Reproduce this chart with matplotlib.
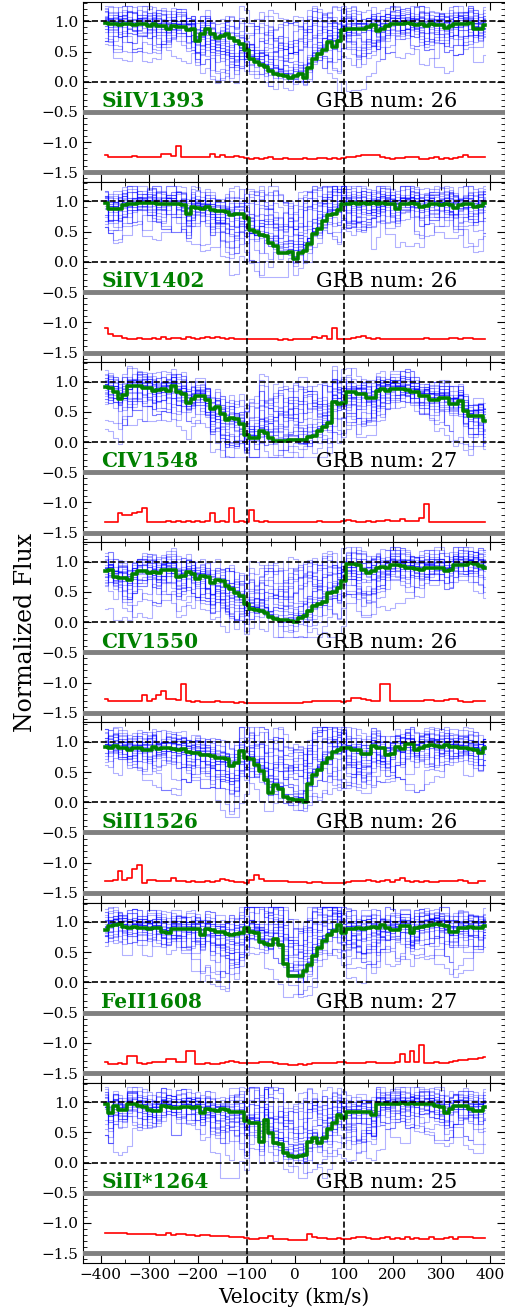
import numpy as np
import matplotlib
matplotlib.use("Agg")
import matplotlib.pyplot as plt
from matplotlib.ticker import MultipleLocator

plt.rcParams['font.family'] = ['DejaVu Serif']

# velocity grid (km/s)
velocity = np.arange(-390, 400, 10)

lines = ['SiIV1393', 'SiIV1402', 'CIV1548', 'CIV1550', 'SiII1526', 'FeII1608', 'SiII*1264']
grb_num = [26, 26, 27, 26, 26, 27, 25]

# median (green) profiles
med_siiv1393 = [0.97, 0.95, 0.95, 0.94, 0.96, 0.95, 0.94, 0.96, 0.95, 0.93,
                0.95, 0.93, 0.92, 0.87, 0.92, 0.90, 0.90, 0.86, 0.88, 0.68,
                0.79, 0.88, 0.79, 0.73, 0.76, 0.79, 0.72, 0.68, 0.62, 0.53,
                0.38, 0.32, 0.28, 0.24, 0.18, 0.13, 0.11, 0.09, 0.07, 0.09,
                0.12, 0.07, 0.23, 0.37, 0.46, 0.52, 0.65, 0.57, 0.68, 0.86,
                0.87, 0.88, 0.87, 0.88, 0.90, 0.94, 0.84, 0.88, 0.92, 0.95,
                0.96, 0.95, 0.97, 0.96, 0.94, 0.95, 0.93, 0.95, 0.94, 0.94,
                0.89, 0.93, 0.95, 0.96, 0.95, 0.97, 0.88, 0.87, 0.94]
med_siiv1402 = [0.97, 0.87, 0.87, 0.88, 0.94, 0.95, 0.96, 0.97, 0.98, 0.97,
                0.98, 0.96, 0.95, 0.95, 0.95, 0.95, 0.94, 0.79, 0.90, 0.89,
                0.88, 0.90, 0.85, 0.84, 0.84, 0.83, 0.78, 0.80, 0.80, 0.72,
                0.53, 0.50, 0.44, 0.42, 0.32, 0.27, 0.15, 0.14, 0.17, 0.04,
                0.15, 0.18, 0.30, 0.46, 0.54, 0.68, 0.78, 0.80, 0.86, 0.95,
                0.96, 0.97, 0.96, 0.97, 0.96, 0.97, 0.96, 0.97, 0.96, 0.96,
                0.87, 0.95, 0.96, 0.97, 0.96, 0.90, 0.92, 0.95, 0.95, 0.94,
                0.95, 0.94, 0.89, 0.94, 0.95, 0.96, 0.91, 0.93, 0.98]
med_civ1548 = [0.91, 0.89, 0.82, 0.71, 0.78, 0.93, 0.93, 0.93, 0.90, 0.89,
               0.84, 0.86, 0.87, 0.85, 0.93, 0.82, 0.80, 0.65, 0.71, 0.76,
               0.76, 0.70, 0.54, 0.58, 0.46, 0.37, 0.40, 0.38, 0.29, 0.11,
               0.06, 0.06, 0.18, 0.15, 0.06, 0.01, 0.01, 0.02, 0.04, 0.04,
               0.03, 0.03, 0.09, 0.10, 0.18, 0.25, 0.32, 0.67, 0.63, 0.65,
               0.83, 0.83, 0.79, 0.79, 0.73, 0.73, 0.84, 0.87, 0.84, 0.87,
               0.87, 0.88, 0.86, 0.82, 0.82, 0.76, 0.76, 0.69, 0.69, 0.73,
               0.73, 0.63, 0.63, 0.68, 0.51, 0.43, 0.43, 0.43, 0.34]
med_civ1550 = [0.84, 0.86, 0.74, 0.73, 0.73, 0.69, 0.79, 0.85, 0.84, 0.82,
               0.83, 0.82, 0.86, 0.87, 0.87, 0.74, 0.76, 0.83, 0.79, 0.71,
               0.76, 0.75, 0.65, 0.69, 0.68, 0.59, 0.55, 0.48, 0.43, 0.30,
               0.21, 0.20, 0.19, 0.15, 0.09, 0.05, 0.04, 0.04, 0.02, 0.00,
               0.07, 0.10, 0.18, 0.26, 0.30, 0.34, 0.48, 0.50, 0.57, 0.68,
               0.96, 0.96, 0.94, 0.87, 0.82, 0.84, 0.90, 0.91, 0.90, 0.94,
               0.94, 0.93, 0.90, 0.90, 0.88, 0.87, 0.90, 0.90, 0.90, 0.89,
               0.84, 0.86, 0.94, 0.95, 0.94, 0.97, 0.96, 0.93, 0.90]
med_siii1526 = [0.91, 0.89, 0.93, 0.90, 0.90, 0.86, 0.89, 0.89, 0.87, 0.87,
                0.91, 0.88, 0.90, 0.90, 0.88, 0.87, 0.88, 0.83, 0.82, 0.81,
                0.79, 0.79, 0.76, 0.74, 0.73, 0.72, 0.60, 0.65, 0.84, 0.73,
                0.72, 0.62, 0.52, 0.36, 0.15, 0.28, 0.22, 0.08, 0.06, 0.03,
                0.03, 0.00, 0.30, 0.45, 0.54, 0.65, 0.73, 0.83, 0.86, 0.89,
                0.89, 0.87, 0.86, 0.80, 0.80, 0.93, 0.90, 0.89, 0.79, 0.80,
                0.92, 0.88, 0.96, 0.96, 0.87, 0.90, 0.93, 0.95, 0.93, 0.92,
                0.94, 0.92, 0.91, 0.89, 0.90, 0.88, 0.86, 0.82, 0.90]
med_feii1608 = [0.86, 0.93, 0.95, 0.97, 0.91, 0.90, 0.91, 0.90, 0.90, 0.89,
                0.90, 0.90, 0.83, 0.82, 0.89, 0.89, 0.88, 0.88, 0.89, 0.88,
                0.78, 0.88, 0.87, 0.84, 0.84, 0.80, 0.79, 0.80, 0.82, 0.90,
                0.84, 0.82, 0.66, 0.63, 0.62, 0.71, 0.62, 0.30, 0.10, 0.10,
                0.10, 0.18, 0.29, 0.43, 0.57, 0.68, 0.79, 0.85, 0.95, 0.82,
                0.88, 0.89, 0.90, 0.89, 0.90, 0.91, 0.90, 0.95, 0.90, 0.87,
                0.86, 0.93, 0.93, 0.82, 0.90, 0.92, 0.93, 0.95, 0.96, 0.95,
                0.94, 0.84, 0.84, 0.90, 0.90, 0.91, 0.90, 0.90, 0.93]
med_siiis1264 = [0.96, 0.82, 0.93, 0.87, 0.87, 0.97, 0.97, 0.93, 0.92, 0.87,
                 0.86, 0.86, 0.93, 0.92, 0.90, 0.90, 0.91, 0.91, 0.90, 0.91,
                 0.82, 0.88, 0.87, 0.86, 0.88, 0.87, 0.84, 0.84, 0.83, 0.68,
                 0.66, 0.65, 0.34, 0.71, 0.48, 0.32, 0.30, 0.15, 0.10, 0.09,
                 0.10, 0.12, 0.34, 0.40, 0.32, 0.40, 0.55, 0.65, 0.79, 0.73,
                 0.83, 0.84, 0.83, 0.84, 0.83, 0.79, 0.96, 0.97, 0.96, 0.97,
                 0.97, 0.98, 0.97, 0.98, 0.97, 0.96, 0.97, 0.96, 0.93, 0.92,
                 0.82, 0.88, 0.93, 0.93, 0.94, 0.88, 0.86, 0.86, 0.92]

# offset (red) curves, drawn below the spectra
red_siiv1393 = [-1.21, -1.24, -1.25, -1.24, -1.24, -1.25, -1.23, -1.25, -1.24, -1.25,
                -1.25, -1.24, -1.20, -1.20, -1.23, -1.07, -1.24, -1.25, -1.25, -1.24,
                -1.25, -1.24, -1.20, -1.24, -1.21, -1.25, -1.25, -1.23, -1.24, -1.26,
                -1.27, -1.26, -1.27, -1.26, -1.25, -1.27, -1.27, -1.26, -1.28, -1.27,
                -1.27, -1.26, -1.27, -1.27, -1.26, -1.26, -1.27, -1.26, -1.27, -1.26,
                -1.25, -1.24, -1.23, -1.22, -1.21, -1.21, -1.22, -1.24, -1.26, -1.27,
                -1.26, -1.26, -1.25, -1.24, -1.25, -1.27, -1.27, -1.26, -1.25, -1.27,
                -1.26, -1.27, -1.26, -1.25, -1.21, -1.24, -1.24, -1.25, -1.25]
red_siiv1402 = [-1.10, -1.20, -1.23, -1.22, -1.26, -1.27, -1.27, -1.26, -1.27, -1.27,
                -1.26, -1.27, -1.25, -1.27, -1.26, -1.26, -1.27, -1.25, -1.26, -1.27,
                -1.26, -1.25, -1.26, -1.25, -1.26, -1.27, -1.26, -1.28, -1.27, -1.28,
                -1.28, -1.27, -1.28, -1.27, -1.28, -1.28, -1.29, -1.28, -1.29, -1.28,
                -1.28, -1.27, -1.27, -1.24, -1.26, -1.22, -1.28, -1.10, -1.28, -1.28,
                -1.27, -1.26, -1.25, -1.23, -1.26, -1.27, -1.26, -1.27, -1.28, -1.27,
                -1.28, -1.27, -1.27, -1.28, -1.28, -1.27, -1.26, -1.27, -1.28, -1.27,
                -1.27, -1.26, -1.26, -1.27, -1.26, -1.26, -1.27, -1.27, -1.27]
red_civ1548 = [-1.33, -1.33, -1.32, -1.18, -1.21, -1.20, -1.18, -1.16, -1.10, -1.33,
               -1.32, -1.33, -1.32, -1.31, -1.32, -1.30, -1.32, -1.31, -1.32, -1.30,
               -1.32, -1.31, -1.18, -1.32, -1.31, -1.32, -1.10, -1.32, -1.31, -1.33,
               -1.13, -1.31, -1.32, -1.30, -1.33, -1.32, -1.33, -1.33, -1.32, -1.33,
               -1.33, -1.32, -1.33, -1.32, -1.31, -1.32, -1.33, -1.32, -1.32, -1.31,
               -1.29, -1.31, -1.32, -1.32, -1.31, -1.32, -1.31, -1.31, -1.29, -1.31,
               -1.30, -1.28, -1.30, -1.30, -1.31, -1.25, -1.02, -1.33, -1.33, -1.32,
               -1.32, -1.33, -1.33, -1.33, -1.33, -1.33, -1.33, -1.33, -1.33]
red_civ1550 = [-1.27, -1.30, -1.31, -1.31, -1.31, -1.30, -1.31, -1.30, -1.20, -1.30,
               -1.28, -1.20, -1.14, -1.27, -1.28, -1.29, -1.02, -1.31, -1.32, -1.31,
               -1.32, -1.32, -1.32, -1.31, -1.32, -1.32, -1.32, -1.33, -1.32, -1.33,
               -1.33, -1.33, -1.33, -1.33, -1.34, -1.34, -1.33, -1.34, -1.33, -1.33,
               -1.33, -1.32, -1.32, -1.31, -1.31, -1.31, -1.30, -1.30, -1.31, -1.32,
               -1.30, -1.25, -1.25, -1.28, -1.29, -1.31, -1.31, -1.02, -1.02, -1.31,
               -1.31, -1.31, -1.30, -1.31, -1.31, -1.30, -1.29, -1.29, -1.30, -1.31,
               -1.29, -1.28, -1.28, -1.30, -1.32, -1.32, -1.31, -1.31, -1.31]
red_siii1526 = [-1.31, -1.31, -1.29, -1.14, -1.28, -1.26, -1.10, -1.03, -1.34, -1.29,
                -1.29, -1.30, -1.31, -1.30, -1.26, -1.30, -1.31, -1.32, -1.31, -1.32,
                -1.32, -1.31, -1.32, -1.30, -1.27, -1.29, -1.31, -1.32, -1.32, -1.33,
                -1.29, -1.20, -1.27, -1.30, -1.30, -1.31, -1.31, -1.31, -1.32, -1.32,
                -1.32, -1.32, -1.33, -1.32, -1.32, -1.33, -1.33, -1.33, -1.33, -1.33,
                -1.32, -1.31, -1.30, -1.31, -1.29, -1.31, -1.32, -1.31, -1.28, -1.32,
                -1.29, -1.26, -1.31, -1.32, -1.31, -1.32, -1.31, -1.32, -1.32, -1.31,
                -1.30, -1.31, -1.30, -1.29, -1.31, -1.33, -1.34, -1.31, -1.30]
red_feii1608 = [-1.31, -1.35, -1.35, -1.34, -1.35, -1.21, -1.21, -1.34, -1.35, -1.34,
                -1.32, -1.32, -1.31, -1.26, -1.26, -1.31, -1.32, -1.14, -1.14, -1.35,
                -1.35, -1.34, -1.35, -1.35, -1.34, -1.32, -1.30, -1.32, -1.34, -1.33,
                -1.34, -1.33, -1.32, -1.31, -1.32, -1.34, -1.35, -1.35, -1.36, -1.36,
                -1.35, -1.36, -1.35, -1.34, -1.34, -1.33, -1.33, -1.33, -1.32, -1.31,
                -1.33, -1.34, -1.34, -1.33, -1.32, -1.32, -1.33, -1.33, -1.34, -1.33,
                -1.31, -1.18, -1.31, -1.13, -1.31, -1.04, -1.34, -1.34, -1.32, -1.34,
                -1.33, -1.31, -1.30, -1.29, -1.28, -1.27, -1.26, -1.25, -1.24]
red_siiis1264 = [-1.17, -1.17, -1.17, -1.16, -1.16, -1.18, -1.18, -1.19, -1.19, -1.19,
                 -1.19, -1.20, -1.20, -1.17, -1.20, -1.19, -1.19, -1.20, -1.20, -1.21,
                 -1.20, -1.20, -1.21, -1.22, -1.21, -1.22, -1.23, -1.23, -1.24, -1.25,
                 -1.26, -1.26, -1.25, -1.25, -1.21, -1.26, -1.27, -1.27, -1.28, -1.28,
                 -1.28, -1.28, -1.18, -1.24, -1.25, -1.25, -1.26, -1.26, -1.25, -1.26,
                 -1.26, -1.25, -1.24, -1.23, -1.25, -1.26, -1.26, -1.25, -1.24, -1.26,
                 -1.25, -1.26, -1.24, -1.26, -1.25, -1.27, -1.26, -1.23, -1.26, -1.27,
                 -1.25, -1.24, -1.26, -1.24, -1.23, -1.24, -1.25, -1.25, -1.25]

# pixel noise of individual GRB spectra around the median (20 km/s sampling)
scatter = [
    [0.05, -0.03, 0.08, 0.02, -0.06, 0.04, 0.07, -0.02, 0.03, 0.06, -0.05, 0.02, 0.08, 0.01, -0.04, 0.05, 0.03, -0.07, 0.06, 0.02,
     0.04, -0.03, 0.07, 0.05, -0.02, 0.06, 0.01, 0.08, -0.04, 0.03, 0.05, 0.02, -0.06, 0.07, 0.04, 0.01, 0.06, -0.03, 0.05, 0.02],
    [0.25, -0.2, 0.3, -0.15, 0.1, 0.28, -0.3, 0.15, 0.22, -0.1, 0.3, -0.25, 0.05, 0.2, -0.35, 0.18, 0.3, -0.12, 0.24, -0.28,
     0.15, 0.3, -0.18, 0.08, 0.26, -0.22, 0.3, 0.1, -0.3, 0.2, 0.28, -0.15, 0.12, 0.3, -0.25, 0.18, 0.06, -0.2, 0.3, 0.15],
    [0.1, 0.05, -0.2, -0.45, -0.6, -0.55, -0.3, 0.05, 0.12, 0.08, -0.05, 0.1, 0.15, 0.02, 0.1, -0.08, 0.12, 0.05, 0.1, 0.15,
     0.08, -0.1, 0.05, 0.12, 0.1, -0.05, 0.08, 0.15, 0.1, 0.02, -0.12, 0.1, 0.14, 0.06, 0.1, -0.04, 0.12, 0.08, 0.1, 0.05],
    [-0.15, 0.2, 0.1, -0.3, 0.22, 0.05, -0.1, 0.25, -0.22, 0.12, 0.2, -0.05, -0.28, 0.18, 0.1, 0.25, -0.15, 0.05, 0.3, -0.2,
     -0.1, 0.22, 0.15, -0.3, 0.2, 0.08, -0.12, 0.25, 0.1, -0.25, 0.2, 0.15, -0.05, -0.3, 0.22, 0.12, -0.18, 0.2, 0.05, -0.1],
    [0.08, 0.12, 0.05, 0.1, 0.02, 0.15, 0.08, -0.05, 0.1, 0.12, 0.06, 0.1, 0.02, 0.08, 0.12, 0.05, 0.1, 0.15, 0.05, 0.1,
     0.02, 0.08, -0.1, -0.3, -0.5, -0.62, -0.7, -0.65, -0.5, -0.35, -0.2, -0.1, 0.05, 0.1, 0.02, 0.08, 0.12, 0.05, 0.1, 0.06],
    [-0.3, -0.1, 0.15, 0.05, -0.2, 0.1, 0.2, -0.15, 0.05, -0.35, 0.18, 0.1, -0.08, 0.22, 0.05, -0.25, 0.1, 0.2, -0.1, 0.15,
     0.25, -0.2, 0.05, 0.12, -0.32, 0.2, 0.1, -0.05, 0.18, -0.15, 0.1, 0.25, -0.2, 0.05, 0.15, -0.3, 0.12, 0.2, -0.1, 0.08],
    [0.05, 0.1, 0.02, 0.08, 0.12, 0.05, -0.05, 0.1, 0.08, -0.2, -0.5, -0.75, -0.7, -0.4, -0.1, 0.05, 0.1, 0.02, 0.08, 0.12,
     0.05, 0.1, 0.06, 0.12, 0.02, 0.08, 0.1, -0.05, 0.1, 0.12, 0.05, 0.08, 0.1, 0.02, -0.15, -0.4, -0.5, -0.3, 0.02, 0.08],
    [-0.1, -0.05, -0.15, -0.08, -0.2, -0.12, -0.05, -0.18, -0.1, -0.22, -0.08, -0.15, -0.05, -0.12, -0.2, -0.1, -0.18, -0.06, -0.14, -0.1,
     -0.2, -0.08, -0.15, -0.12, -0.05, -0.18, -0.1, -0.22, -0.08, -0.14, -0.1, -0.16, -0.06, -0.2, -0.12, -0.08, -0.18, -0.1, -0.14, -0.06],
    [0.3, -0.4, 0.2, -0.1, 0.35, -0.45, 0.1, 0.3, -0.3, 0.2, -0.5, 0.25, 0.1, -0.35, 0.3, -0.2, 0.15, -0.45, 0.3, 0.05,
     -0.3, 0.35, -0.15, 0.2, -0.4, 0.3, 0.1, -0.5, 0.2, 0.3, -0.25, 0.1, 0.35, -0.4, 0.15, -0.2, 0.3, -0.35, 0.2, 0.1],
    [0.12, 0.18, 0.1, 0.2, 0.15, 0.08, 0.2, 0.12, 0.18, 0.1, 0.15, 0.2, 0.08, 0.12, 0.18, 0.15, 0.1, 0.2, 0.12, 0.05,
     0.15, 0.18, 0.1, 0.2, 0.12, 0.15, 0.08, 0.18, 0.1, 0.2, 0.15, -0.1, -0.4, -0.65, -0.55, -0.3, 0.05, 0.15, 0.1, 0.2],
    [-0.25, -0.35, -0.45, -0.4, -0.3, -0.2, -0.35, -0.5, -0.55, -0.4, -0.25, -0.1, -0.2, -0.3, -0.15, 0.0, 0.05, 0.1, 0.15, 0.1,
     0.05, 0.0, -0.1, -0.05, 0.05, 0.1, -0.05, -0.2, -0.3, -0.45, -0.55, -0.5, -0.35, -0.25, -0.3, -0.4, -0.35, -0.2, -0.1, -0.05],
    [0.18, -0.08, 0.05, 0.22, -0.12, 0.15, 0.02, -0.2, 0.25, 0.1, -0.05, 0.18, -0.15, 0.2, 0.08, -0.1, 0.22, 0.05, -0.25, 0.15,
     0.1, -0.05, 0.2, -0.15, 0.12, 0.25, -0.08, 0.1, 0.18, -0.2, 0.05, 0.22, 0.1, -0.12, 0.2, 0.05, -0.18, 0.15, 0.25, -0.05],
]

# how single sightlines differ from the median inside the absorption (20 km/s sampling)
spread = [
    [0.0] * 40,
    [0.0] * 14 + [0.1, 0.25, 0.4, 0.5, 0.55, 0.6, 0.6, 0.55, 0.5, 0.4, 0.25, 0.1] + [0.0] * 14,
    [0.0] * 10 + [-0.15, -0.3, -0.4, -0.35, -0.2, 0.0, 0.1, 0.2, 0.35, 0.45, 0.5, 0.45, 0.35, 0.2, 0.1] + [0.0] * 15,
    [0.0] * 11 + [-0.3, -0.45, -0.5, -0.3] + [0.0] * 10 + [-0.3, -0.5, -0.45, -0.25] + [0.0] * 11,
    [0.0] * 15 + [0.2, 0.35, 0.45, 0.4, 0.3, 0.1, 0.0, 0.0, -0.2, -0.35, -0.4, -0.3, -0.15] + [0.0] * 12,
    [0.0] * 13 + [0.15, 0.3, 0.5, 0.65, 0.7, 0.75, 0.75, 0.7, 0.65, 0.5, 0.3, 0.15] + [0.0] * 15,
]

medians = [med_siiv1393, med_siiv1402, med_civ1548, med_civ1550, med_siii1526, med_feii1608, med_siiis1264]
reds = [red_siiv1393, red_siiv1402, red_civ1548, red_civ1550, red_siii1526, red_feii1608, red_siiis1264]
nv = len(velocity)

fig, axes = plt.subplots(7, 1, sharex=True, figsize=(5.06, 13.1), dpi=100)
fig.subplots_adjust(left=0.164, right=0.998, top=0.9985, bottom=0.036, hspace=0)

for k, ax in enumerate(axes):
    med = np.array(medians[k])
    # one blue line per GRB
    for j in range(grb_num[k]):
        i, r = j % 12, j // 12
        if r == 1:
            pat = np.roll(scatter[i][::-1], 3 * k + 7)
        else:
            pat = np.roll(scatter[i], 5 * k + 11 * r)
        ph = j % 2
        off = np.repeat(pat, 2)[ph:ph + nv] + np.repeat(spread[(i + 3 * r) % 6], 2)[:nv]
        ax.plot(velocity, np.clip(med + off, -0.25, 1.25), color='blue', lw=0.8,
                alpha=0.3, drawstyle='steps-mid')
    ax.plot(velocity, med, color='green', lw=2.6, drawstyle='steps-mid', zorder=5)
    ax.plot(velocity, reds[k], color='red', lw=1.2, drawstyle='steps-mid', zorder=5)

    ax.axhline(1.0, color='k', ls='--', lw=1.2, zorder=6)
    ax.axhline(0.0, color='k', ls='--', lw=1.2, zorder=6)
    ax.axhline(-0.5, color='gray', lw=3.5, zorder=4)
    ax.axhline(-1.5, color='gray', lw=3.5, zorder=4)
    ax.axvline(-100, color='k', ls='--', lw=1.2, zorder=6)
    ax.axvline(100, color='k', ls='--', lw=1.2, zorder=6)

    ax.text(-398, -0.42, lines[k], color='green', fontsize=14.5, fontweight='bold')
    ax.text(42, -0.42, 'GRB num: %d' % grb_num[k], color='k', fontsize=15)

    ax.set_ylim(-1.66, 1.32)
    ax.set_xlim(-436, 431)
    ax.yaxis.set_major_locator(MultipleLocator(0.5))
    ax.yaxis.set_minor_locator(MultipleLocator(0.1))
    ax.xaxis.set_major_locator(MultipleLocator(100))
    ax.xaxis.set_minor_locator(MultipleLocator(50))
    ax.tick_params(which='both', direction='in', top=True, right=True, labelsize=11)
    ax.tick_params(which='major', length=6)
    ax.tick_params(which='minor', length=3)

axes[-1].set_xlabel('Velocity (km/s)', fontsize=14.5)
fig.text(0.05, 0.517, 'Normalized Flux', rotation=90, fontsize=17, ha='center', va='center')

fig.savefig('out.png', dpi=100)
